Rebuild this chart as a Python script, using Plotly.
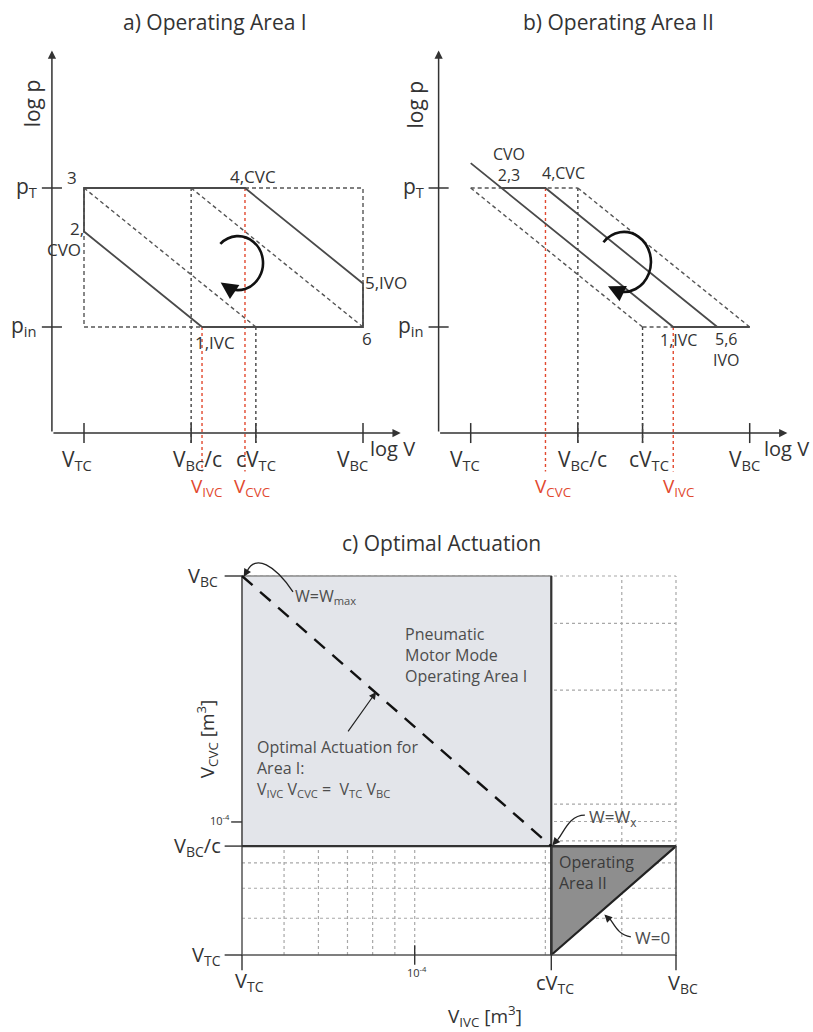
import numpy as np
import plotly.graph_objects as go

W, H = 813, 1032
FONT = "Open Sans"
DARK = "#333333"
LINE = "#4a4a4a"
RED = "#e2492f"

# ---------------- Panel a (normalised log axes: V_TC=0, V_BC=1 ; p_in=0, p_T=1)
A_TICK_POS = [0.0, 0.384, 0.616, 1.0]
A_TICK_TXT = ["V<sub>TC</sub>", "V<sub>BC</sub>/c", "cV<sub>TC</sub>", "V<sub>BC</sub>"]
A_TICK_LBL = [-0.025, 0.405, 0.616, 0.961]
P_TICK_POS = [1.0, 0.0]
P_TICK_TXT = ["p<sub>T</sub>", "p<sub>in</sub>"]
A_CYCLE_LOGV = [0.423, 0.0, 0.0, 0.577, 1.0, 1.0, 0.423]
A_CYCLE_LOGP = [0.0, 0.687, 1.0, 1.0, 0.313, 0.0, 0.0]
A_REF_LOGV = [0, 1, 1, 0, 0, None, 0, 0.616, None, 0.384, 1]
A_REF_LOGP = [1, 1, 0, 0, 1, None, 1, 0, None, 1, 0]
A_V_IVC, A_V_CVC = 0.423, 0.577
A_PT_TXT = ["3", "4,CVC", "2,", "CVO", "5,IVO", "6", "1,IVC"]
A_PT_LOGV = [-0.043, 0.606, -0.025, -0.072, 1.082, 1.014, 0.470]
A_PT_LOGP = [1.072, 1.086, 0.712, 0.554, 0.317, -0.086, -0.108]

# ---------------- Panel b
B_TICK_LBL = [-0.02, 0.40, 0.64, 0.981]
B_SOLID_LOGV = [0.0, 0.726, 1.0, None, 0.110, 0.268, 0.884]
B_SOLID_LOGP = [1.179, 0.0, 0.0, None, 1.0, 1.0, 0.0]
B_REF_LOGV = [0, 0.384, None, 0.616, 1, None, 0, 0.616, None, 0.384, 1]
B_REF_LOGP = [1, 1, None, 0, 0, None, 1, 0, None, 1, 0]
B_V_CVC, B_V_IVC = 0.268, 0.726
B_PT_TXT = ["CVO<br>2,3", "4,CVC", "1,IVC", "5,6<br>IVO"]
B_PT_LOGV = [0.136, 0.331, 0.743, 0.915]
B_PT_LOGP = [1.168, 1.108, -0.094, -0.160]

# ---------------- Panel c (volumes in m^3)
V_TC_C = 4.0e-5
V_BC_C = 4.0e-4
C_RATIO = 5.16
GRID_V = [5e-5, 6e-5, 7e-5, 8e-5, 9e-5, 1e-4, 2e-4, 3e-4, 4e-4]

fig = go.Figure()


def xax(px0, px1, org_px, org_val, scale):
    return dict(domain=[px0 / W, px1 / W],
                range=[org_val + (px0 - org_px) / scale, org_val + (px1 - org_px) / scale],
                visible=False, fixedrange=True, showgrid=False, zeroline=False)


def yax(py0, py1, org_py, org_val, scale):
    return dict(domain=[1 - py1 / H, 1 - py0 / H],
                range=[org_val + (org_py - py1) / scale, org_val + (org_py - py0) / scale],
                visible=False, fixedrange=True, showgrid=False, zeroline=False)


def line(xs, ys, ax, color=LINE, width=1.6, dash="solid", fill=None, fillcolor=None):
    fig.add_trace(go.Scatter(x=xs, y=ys, mode="lines", xaxis="x" + ax, yaxis="y" + ax,
                             line=dict(color=color, width=width, dash=dash),
                             fill=fill, fillcolor=fillcolor,
                             hoverinfo="skip", showlegend=False, connectgaps=False))


annots = []
shapes = []


def txt(x, y, s, ax, size=17, color=DARK, xanchor="center", yanchor="middle", angle=0, ref=None, align="left"):
    xr = ref or ("x" + ax)
    yr = ref or ("y" + ax)
    annots.append(dict(x=x, y=y, text=s, xref=xr, yref=yr, showarrow=False,
                       font=dict(size=size, color=color, family=FONT),
                       xanchor=xanchor, yanchor=yanchor, textangle=angle, align=align))


def arrow(x, y, x0, y0, ax, color=DARK, width=1.5, size=1.0, head=2):
    annots.append(dict(x=x, y=y, ax=x0, ay=y0, xref="x" + ax, yref="y" + ax,
                       axref="x" + ax, ayref="y" + ax, text="", showarrow=True,
                       arrowhead=head, arrowsize=size, arrowwidth=width, arrowcolor=color,
                       standoff=0, startstandoff=0))


def arc_path(cx, cy, rx, ry, a0, a1, nseg=6):
    t = np.radians(np.linspace(a0, a1, nseg + 1))
    d = t[1] - t[0]
    k = 4.0 / 3.0 * np.tan(d / 4.0)
    p = "M %f,%f" % (cx + rx * np.cos(t[0]), cy + ry * np.sin(t[0]))
    for i in range(nseg):
        t1, t2 = t[i], t[i + 1]
        x1, y1 = cx + rx * np.cos(t1), cy + ry * np.sin(t1)
        x2, y2 = cx + rx * np.cos(t2), cy + ry * np.sin(t2)
        c1 = (x1 - k * rx * np.sin(t1), y1 + k * ry * np.cos(t1))
        c2 = (x2 + k * rx * np.sin(t2), y2 - k * ry * np.cos(t2))
        p += " C %f,%f %f,%f %f,%f" % (c1[0], c1[1], c2[0], c2[1], x2, y2)
    return p


def pv_panel(ax, ref_v, ref_p, red_pts, title, title_px, tick_lbl, ylab_px, logv_x):
    u0, v0 = -0.115, -0.763
    arrow(1.135, v0, u0, v0, ax, width=1.5, size=1.1)
    arrow(u0, 1.99, u0, v0, ax, width=1.5, size=1.1)
    tx, ty = [], []
    for p in A_TICK_POS:
        tx += [p, p, None]
        ty += [-0.691, -0.835, None]
    for p in P_TICK_POS:
        tx += [-0.151, -0.079, None]
        ty += [p, p, None]
    line(tx, ty, ax, color=DARK, width=1.5)
    line([0.384, 0.384, None, 0.616, 0.616], [1, -0.835, None, 0, -0.835], ax, color="#444", width=1.4, dash="dot")
    line(ref_v, ref_p, ax, color="#555", width=1.4, dash="4px,3px")
    for v, p in red_pts:
        line([v, v], [p, -1.04], ax, color=RED, width=1.4, dash="dot")
    for p, s, lx in zip(A_TICK_POS, A_TICK_TXT, tick_lbl):
        txt(lx, -0.955, s, ax, size=21)
    for p, s in zip(P_TICK_POS, P_TICK_TXT):
        txt(-0.162, p + 0.01, s, ax, size=21, xanchor="right")
    txt(logv_x, -0.875, "log V", ax, size=20, xanchor="left")
    txt(ylab_px[0], ylab_px[1], "log p", ax, size=21, angle=-90)
    txt(title_px[0] / W, 1 - title_px[1] / H, title, ax, size=21, ref="paper")


# ---------- Panel a
pv_panel("", A_REF_LOGV, A_REF_LOGP, [(A_V_IVC, 0.0), (A_V_CVC, 1.0)],
         "a) Operating Area I", (215, 22), A_TICK_LBL, (-0.185, 1.612), 1.018)
line(A_CYCLE_LOGV, A_CYCLE_LOGP, "", color=LINE, width=1.8)
for s, v, p in zip(A_PT_TXT, A_PT_LOGV, A_PT_LOGP):
    txt(v, p, s, "", size=17)
txt(A_V_IVC - 0.045, -1.15, "V<sub>IVC</sub>", "", size=19, color=RED, xanchor="left")
txt(A_V_CVC - 0.045, -1.15, "V<sub>CVC</sub>", "", size=19, color=RED, xanchor="left")
shapes.append(dict(type="path", xref="x", yref="y",
                   path=arc_path(0.552, 0.460, 0.0896, 0.194, 135, -115),
                   line=dict(color="#111", width=2.6)))
arrow(0.552 + 0.0896 * np.cos(np.radians(-134)), 0.460 + 0.194 * np.sin(np.radians(-134)),
      0.552 + 0.0896 * np.cos(np.radians(-110)), 0.460 + 0.194 * np.sin(np.radians(-110)),
      "", color="#111", width=2.6, size=1.3)

# ---------- Panel b
pv_panel("2", B_REF_LOGV, B_REF_LOGP, [(B_V_CVC, 1.0), (B_V_IVC, 0.0)],
         "b) Operating Area II", (618, 22), B_TICK_LBL, (-0.2, 1.6), 1.043)
line(B_SOLID_LOGV, B_SOLID_LOGP, "2", color=LINE, width=1.8)
for s, v, p in zip(B_PT_TXT, B_PT_LOGV, B_PT_LOGP):
    txt(v, p, s, "2", size=16, align="center")
txt(B_V_CVC - 0.045, -1.15, "V<sub>CVC</sub>", "2", size=19, color=RED, xanchor="left")
txt(B_V_IVC - 0.045, -1.15, "V<sub>IVC</sub>", "2", size=19, color=RED, xanchor="left")
shapes.append(dict(type="path", xref="x2", yref="y2",
                   path=arc_path(0.549, 0.468, 0.097, 0.216, 139, -105),
                   line=dict(color="#111", width=2.6)))
arrow(0.549 + 0.097 * np.cos(np.radians(-126)), 0.468 + 0.216 * np.sin(np.radians(-126)),
      0.549 + 0.097 * np.cos(np.radians(-101)), 0.468 + 0.216 * np.sin(np.radians(-101)),
      "2", color="#111", width=2.6, size=1.3)

# ---------- Panel c
lx_tc, lx_bc = np.log10(V_TC_C), np.log10(V_BC_C)
l_c = np.log10(C_RATIO)
lcv = lx_tc + l_c          # c*V_TC
lbc_c = lx_bc - l_c        # V_BC/c
gl = np.log10(GRID_V)
gx, gy = [], []
for g in gl:
    gx += [g, g, None]
    gy += [lx_tc, lx_bc, None]
    gx += [lx_tc, lx_bc, None]
    gy += [g, g, None]
line(gx, gy, "3", color="#a8a8a8", width=1.2, dash="dot")
line([lx_tc, lcv, lcv, lx_tc, lx_tc], [lbc_c, lbc_c, lx_bc, lx_bc, lbc_c], "3",
     color="#8a8a8a", width=1.3, fill="toself", fillcolor="#e3e5ea")
line([lcv, lx_bc, lcv, lcv], [lbc_c, lbc_c, lx_tc, lbc_c], "3",
     color="#222", width=2.2, fill="toself", fillcolor="#8e8e8e")
line([lx_tc, lx_tc, lx_bc, lx_bc], [lx_bc, lx_tc, lx_tc, lbc_c], "3", color="#555", width=1.5)
line([lx_tc, lx_bc], [lbc_c, lbc_c], "3", color="#333", width=2.2)
line([lcv, lcv], [lx_tc, lx_bc], "3", color="#333", width=2.2)
# optimal actuation line V_IVC*V_CVC = V_TC*V_BC
line([lx_tc, lcv], [lx_tc + lx_bc - lx_tc, lx_tc + lx_bc - lcv], "3", color="#111", width=2.4, dash="14px,10px")
tk = 0.04
cx_, cy_ = [], []
for yv in [lx_bc, lbc_c, lx_tc]:
    cx_ += [lx_tc - tk, lx_tc, None]
    cy_ += [yv, yv, None]
cx_ += [lx_tc - 0.025, lx_tc, None]
cy_ += [lx_tc + 0.351, lx_tc + 0.351, None]
for xv in [lx_tc, lcv, lx_bc]:
    cx_ += [xv, xv, None]
    cy_ += [lx_tc, lx_tc - tk, None]
cx_ += [-4.0, -4.0, None]
cy_ += [lx_tc + 0.026, lx_tc - 0.026, None]
line(cx_, cy_, "3", color="#333", width=1.4)

txt(lx_tc - 0.05, lx_bc, "V<sub>BC</sub>", "3", size=20, xanchor="right")
txt(lx_tc - 0.043, lbc_c, "V<sub>BC</sub>/c", "3", size=20, xanchor="right")
txt(lx_tc - 0.043, lx_tc, "V<sub>TC</sub>", "3", size=20, xanchor="right")
txt(lx_tc - 0.022, lx_tc + 0.356, "10<sup>-4</sup>", "3", size=11, xanchor="right")
txt(lx_tc + 0.018, lx_tc - 0.07, "V<sub>TC</sub>", "3", size=20)
txt(-4.0 + 0.005, lx_tc - 0.045, "10<sup>-4</sup>", "3", size=11)
txt(lcv + 0.008, lx_tc - 0.075, "cV<sub>TC</sub>", "3", size=20)
txt(lx_bc + 0.015, lx_tc - 0.075, "V<sub>BC</sub>", "3", size=20)
txt(lx_tc + 0.56, lx_tc - 0.16, "V<sub>IVC</sub> [m<sup>3</sup>]", "3", size=19)
txt(lx_tc - 0.08, lx_tc + 0.57, "V<sub>CVC</sub> [m<sup>3</sup>]", "3", size=19, angle=-90)
txt(442 / W, 1 - 543 / H, "c) Optimal Actuation", "3", size=21, ref="paper")

TXTC = "#4d4d4d"
txt(lx_tc + 0.118, lx_tc + 0.947, "W=W<sub>max</sub>", "3", size=16, color=TXTC, xanchor="left")
txt(lx_tc + 0.371, lx_tc + 0.792, "Pneumatic<br>Motor Mode<br>Operating Area I", "3", size=16, color=TXTC, xanchor="left")
txt(lx_tc + 0.030, lx_tc + 0.493, "Optimal Actuation for<br>Area I:<br>V<sub>IVC</sub> V<sub>CVC</sub> =  V<sub>TC</sub> V<sub>BC</sub>",
    "3", size=16, color=TXTC, xanchor="left")
txt(lx_tc + 0.795, lx_tc + 0.362, "W=W<sub>x</sub>", "3", size=17, color=TXTC, xanchor="left")
txt(lx_tc + 0.726, lx_tc + 0.219, "Operating<br>Area II", "3", size=16, color="#3a3a3a", xanchor="left")
txt(lx_tc + 0.900, lx_tc + 0.045, "W=0", "3", size=17, color=TXTC, xanchor="left")


def cpath(pts):
    q = [(lx_tc + a, lx_tc + b) for a, b in pts]
    return "M %f,%f C %f,%f %f,%f %f,%f" % (q[0] + q[1] + q[2] + q[3])


for pts in [[(0.1175, 0.958), (0.076, 1.03), (0.030, 1.058), (0.012, 1.013)],
            [(0.790, 0.369), (0.756, 0.369), (0.744, 0.330), (0.728, 0.305)],
            [(0.896, 0.048), (0.866, 0.053), (0.859, 0.079), (0.846, 0.098)]]:
    shapes.append(dict(type="path", xref="x3", yref="y3", path=cpath(pts),
                       line=dict(color="#222", width=1.3)))
arrow(lx_tc + 0.004, lx_tc + 0.998, lx_tc + 0.014, lx_tc + 1.018, "3", color="#222", width=1.3, size=1.2)
arrow(lx_tc + 0.715, lx_tc + 0.289, lx_tc + 0.730, lx_tc + 0.309, "3", color="#222", width=1.3, size=1.2)
arrow(lx_tc + 0.835, lx_tc + 0.107, lx_tc + 0.848, lx_tc + 0.092, "3", color="#222", width=1.3, size=1.2)
arrow(lx_tc + 0.309, lx_tc + 0.694, lx_tc + 0.242, lx_tc + 0.586, "3", color="#222", width=1.2, size=1.2)

fig.update_layout(
    width=W, height=H, margin=dict(l=0, r=0, t=0, b=0),
    paper_bgcolor="white", plot_bgcolor="rgba(0,0,0,0)",
    font=dict(family=FONT, color=DARK),
    xaxis=dict(xax(0, 406, 84, 0.0, 279), anchor="y"),
    yaxis=dict(yax(30, 505, 327, 0.0, 139), anchor="x"),
    xaxis2=dict(xax(406, 813, 470.7, 0.0, 279), anchor="y2"),
    yaxis2=dict(yax(30, 505, 327, 0.0, 139), anchor="x2"),
    xaxis3=dict(xax(150, 800, 242, float(lx_tc), 434), anchor="y3"),
    yaxis3=dict(yax(515, 1032, 955, float(lx_tc), 379), anchor="x3"),
    annotations=annots, shapes=shapes,
)
fig.write_html("out.html", config={"displayModeBar": False},
               post_script="document.body.style.margin='0px';document.body.style.overflow='hidden';")
